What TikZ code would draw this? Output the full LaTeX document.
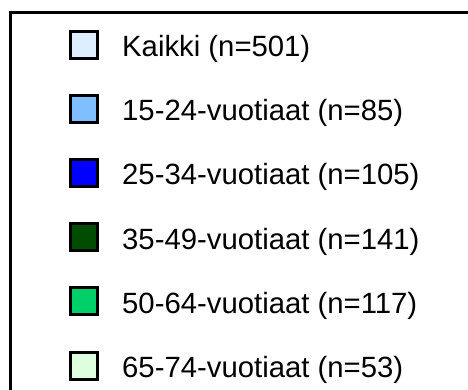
\documentclass[tikz,border=0pt]{standalone}
\usepackage{fontspec}
\setmainfont{Liberation Sans}
\definecolor{cAll}{HTML}{DCEEFF}
\definecolor{cA}{HTML}{80BFFF}
\definecolor{cB}{HTML}{0000FF}
\definecolor{cC}{HTML}{004C00}
\definecolor{cD}{HTML}{00D068}
\definecolor{cE}{HTML}{DDFFDD}
\tikzset{
  swatch/.style={draw=black, line width=3pt, minimum size=27pt, inner sep=0pt, fill=#1},
  lbl/.style={anchor=base west, inner sep=0pt, font=\fontsize{29.3}{34}\selectfont},
}
\begin{document}
\begin{tikzpicture}[x=1pt,y=-1pt]
\useasboundingbox (0,0) rectangle (468,389);
\draw[line width=3pt, line join=miter] (469,12.5) -- (10.5,12.5) -- (10.5,390);
\foreach \i/\c/\t in {0/cAll/{Kaikki (n=501)},1/cA/{15-24-vuotiaat (n=85)},2/cB/{25-34-vuotiaat (n=105)},3/cC/{35-49-vuotiaat (n=141)},4/cD/{50-64-vuotiaat (n=117)},5/cE/{65-74-vuotiaat (n=53)}}{
  \node[swatch=\c] (s\i) at (84,44.5+64.2*\i) {};
  \node[lbl] (t\i) at (122,56.5+64.2*\i) {\t};
}
\end{tikzpicture}
\end{document}
